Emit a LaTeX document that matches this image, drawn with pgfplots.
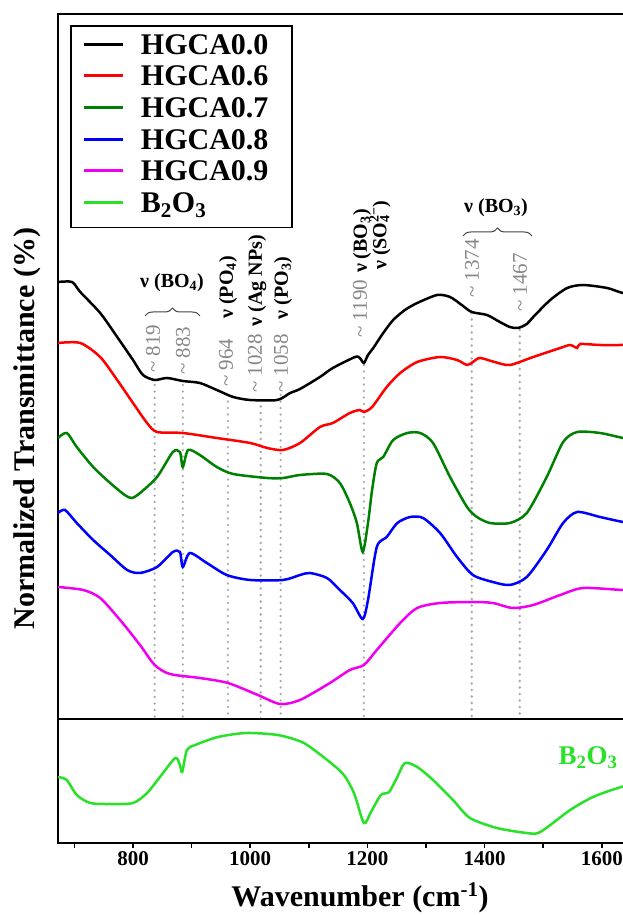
\documentclass[border=0pt]{standalone}
\usepackage{fontspec}
\setmainfont{Liberation Serif}
\usepackage{pgfplots}
\pgfplotsset{compat=1.18}
\usetikzlibrary{decorations.pathreplacing}
\definecolor{cdgreen}{RGB}{0,128,0}
\definecolor{clime}{RGB}{40,225,40}
\definecolor{cmag}{RGB}{240,0,240}
\definecolor{cgray}{RGB}{135,135,135}
\definecolor{cdot}{RGB}{168,168,175}
\newcommand{\gnum}[1]{{\color{cgray}\fontsize{21}{21}\selectfont\mdseries\textasciitilde\ #1}}
\newcommand{\bnu}[1]{{\fontsize{20}{20}\selectfont\bfseries ν (#1)}}

\begin{document}
\begin{tikzpicture}[x=1pt,y=1pt]
\path[use as bounding box] (0,0) rectangle (623,915);
\clip (0,0) rectangle (623,915);
\begin{axis}[
  at={(58pt,196pt)}, anchor=south west,
  scale only axis, width=602.4pt, height=705pt,
  xmin=672, xmax=1700, ymin=0, ymax=705,
  xtick=\empty, ytick=\empty,
  axis line style={line width=2.5pt},
  every axis plot/.append style={line width=2.5pt, smooth, tension=0.45},
  legend style={at={(0.0199,0.9844)}, anchor=north west, draw=black, line width=1.6pt, fill=white,
     inner xsep=12.2pt, inner ysep=6pt, row sep=0pt, column sep=16pt,
     font=\fontsize{30}{30}\selectfont\bfseries,
     cells={anchor=base west},
     nodes={inner sep=0pt, text width=139pt, text height=22.6pt, text depth=9pt}},
  legend image code/.code={\draw[#1, line width=3pt] (0pt,10pt) -- (39pt,10pt);},
]
% reference lines
\addplot[cdot, line width=2.6pt, dash pattern=on 0pt off 6.5pt, line cap=round, forget plot] coordinates {(837,334) (837,0)};
\addplot[cdot, line width=2.6pt, dash pattern=on 0pt off 6.5pt, line cap=round, forget plot] coordinates {(885,334) (885,0)};
\addplot[cdot, line width=2.6pt, dash pattern=on 0pt off 6.5pt, line cap=round, forget plot] coordinates {(962,324) (962,0)};
\addplot[cdot, line width=2.6pt, dash pattern=on 0pt off 6.5pt, line cap=round, forget plot] coordinates {(1018,319) (1018,0)};
\addplot[cdot, line width=2.6pt, dash pattern=on 0pt off 6.5pt, line cap=round, forget plot] coordinates {(1052,324) (1052,0)};
\addplot[cdot, line width=2.6pt, dash pattern=on 0pt off 6.5pt, line cap=round, forget plot] coordinates {(1194,354) (1194,0)};
\addplot[cdot, line width=2.6pt, dash pattern=on 0pt off 6.5pt, line cap=round, forget plot] coordinates {(1378,406) (1378,0)};
\addplot[cdot, line width=2.6pt, dash pattern=on 0pt off 6.5pt, line cap=round, forget plot] coordinates {(1460,389) (1460,0)};
% HGCA0.0
\addplot[black] coordinates {(672,437) (696,437) (710,427) (744,406) (773,382) (800,359) (817,344) (837,339) (858,341) (885,338) (914,336) (943,329) (971,322) (1000,319) (1046,319) (1068,326) (1085,330) (1119,342) (1141,351) (1179,362) (1187,361) (1194,356) (1201,364) (1210,371) (1227,386) (1244,399) (1264,409) (1285,416) (1319,424) (1341,422) (1361,414) (1378,407) (1404,404) (1426,397) (1443,392) (1457,391) (1472,395) (1483,402) (1512,419) (1541,431) (1568,434) (1609,431) (1636,426) (1680,422)};
\addlegendentry{HGCA0.0}
% HGCA0.6
\addplot[red] coordinates {(672,376) (710,376) (744,362) (773,339) (800,316) (824,296) (841,287) (885,286) (943,281) (1000,276) (1029,271) (1056,269) (1085,276) (1119,292) (1141,296) (1170,306) (1187,309) (1194,307) (1208,312) (1233,332) (1256,346) (1285,357) (1324,362) (1353,359) (1370,354) (1380,357) (1392,361) (1417,357) (1443,354) (1483,362) (1529,371) (1546,374) (1558,371) (1563,375) (1597,374) (1636,374) (1680,374)};
\addlegendentry{HGCA0.6}
% HGCA0.7
\addplot[cdgreen] coordinates {(672,281) (687,286) (704,272) (732,252) (761,236) (786,224) (798,221) (812,226) (841,242) (868,267) (880,267) (885,252) (894,269) (914,264) (943,252) (971,245) (1029,241) (1056,241) (1085,244) (1131,245) (1153,236) (1170,216) (1182,196) (1192,167) (1201,196) (1208,229) (1216,256) (1227,262) (1244,279) (1268,286) (1290,286) (1312,276) (1341,242) (1370,212) (1387,202) (1409,196) (1443,196) (1472,206) (1506,242) (1534,277) (1558,287) (1597,286) (1636,281) (1680,276)};
\addlegendentry{HGCA0.7}
% HGCA0.8
\addplot[blue] coordinates {(672,206) (684,209) (704,196) (732,179) (761,164) (790,149) (812,146) (841,152) (868,167) (880,167) (885,152) (897,166) (926,156) (960,144) (1000,139) (1056,139) (1085,144) (1102,146) (1131,141) (1153,129) (1175,116) (1192,100) (1201,119) (1216,172) (1233,182) (1251,196) (1273,202) (1295,201) (1324,186) (1353,162) (1380,144) (1414,137) (1443,134) (1472,142) (1506,169) (1534,196) (1558,207) (1597,202) (1636,197) (1680,193)};
\addlegendentry{HGCA0.8}
% HGCA0.9
\addplot[cmag] coordinates {(672,132) (715,129) (744,121) (778,99) (812,74) (837,54) (863,45) (914,41) (962,36) (1013,24) (1051,15) (1085,19) (1136,36) (1170,49) (1194,54) (1216,69) (1256,96) (1285,111) (1324,116) (1380,117) (1414,116) (1448,111) (1483,114) (1529,124) (1568,131) (1636,129) (1680,129)};
\addlegendentry{HGCA0.9}
\addlegendimage{clime}
\addlegendentry{B\textsubscript{2}O\textsubscript{3}}
\end{axis}

\begin{axis}[
  at={(58pt,72pt)}, anchor=south west,
  scale only axis, width=602.4pt, height=124pt,
  xmin=672, xmax=1700, ymin=0, ymax=124,
  ytick=\empty,
  xtick={800,1000,1200,1400,1600},
  minor xtick={700,900,1100,1300,1500,1700},
  xtick pos=left, tick align=outside,
  major tick length=5pt, minor tick length=5pt,
  tick style={black, line width=1.5pt},
  xticklabel style={font=\fontsize{21}{21}\selectfont\bfseries},
  /pgf/number format/assume math mode=true,
  /pgf/number format/1000 sep={},
  axis line style={line width=2.5pt},
]
\addplot[clime, line width=2.5pt, smooth, tension=0.45] coordinates {(672,66) (687,63) (704,48) (727,40) (761,39) (800,40) (824,50) (846,66) (872,85) (880,78) (884,71) (892,93) (906,98) (945,106) (993,110) (1047,108) (1088,101) (1116,90) (1157,70) (1177,50) (1194,20) (1206,31) (1223,48) (1237,51) (1251,66) (1264,80) (1285,76) (1312,63) (1346,43) (1375,25) (1421,15) (1472,10) (1495,11) (1546,33) (1585,46) (1633,56) (1680,62)};
\end{axis}

% axis titles
\node[rotate=90, anchor=base] at (34.5,486.5) {\fontsize{30}{30}\selectfont\bfseries Normalized Transmittance (\%)};
\node[anchor=base] at (360,9) {\fontsize{30}{30}\selectfont\bfseries Wavenumber (cm\textsuperscript{-1})};

% band annotations
\node[rotate=90, anchor=west, inner sep=0pt] at (153,542) {\gnum{819}};
\node[rotate=90, anchor=west, inner sep=0pt] at (183,540) {\gnum{883}};
\node[rotate=90, anchor=west, inner sep=0pt] at (228,528) {\gnum{964}\hspace{20pt}\bnu{PO\textsubscript{4}}};
\node[rotate=90, anchor=west, inner sep=0pt] at (257,522) {\gnum{1028}\hspace{8pt}\bnu{Ag NPs}};
\node[rotate=90, anchor=west, inner sep=0pt] at (283,522) {\gnum{1058}\hspace{15pt}\bnu{PO\textsubscript{3}}};
\node[rotate=90, anchor=west, inner sep=0pt] at (362,577) {\gnum{1190}\hspace{7pt}\bnu{BO\textsubscript{3}}};
\node[rotate=90, anchor=west, inner sep=0pt] at (380,645) {\bnu{SO\rlap{\textsubscript{4}}\textsuperscript{2−}}};
\node[rotate=90, anchor=west, inner sep=0pt] at (472,617) {\gnum{1374}};
\node[rotate=90, anchor=west, inner sep=0pt] at (520,603) {\gnum{1467}};

\node[inner sep=0pt] at (172,632) {\bnu{BO\textsubscript{4}}};
\draw[black!75, line width=1pt, decorate, decoration={brace, amplitude=8pt}] (145,599) -- (200,599);
\node[inner sep=0pt] at (496,707) {\bnu{BO\textsubscript{3}}};
\draw[black!75, line width=1pt, decorate, decoration={brace, amplitude=8pt}] (463,679) -- (532,679);

\node[inner sep=0pt, text=clime] at (588,157) {\fontsize{27}{27}\selectfont\bfseries B\textsubscript{2}O\textsubscript{3}};
\end{tikzpicture}
\end{document}
